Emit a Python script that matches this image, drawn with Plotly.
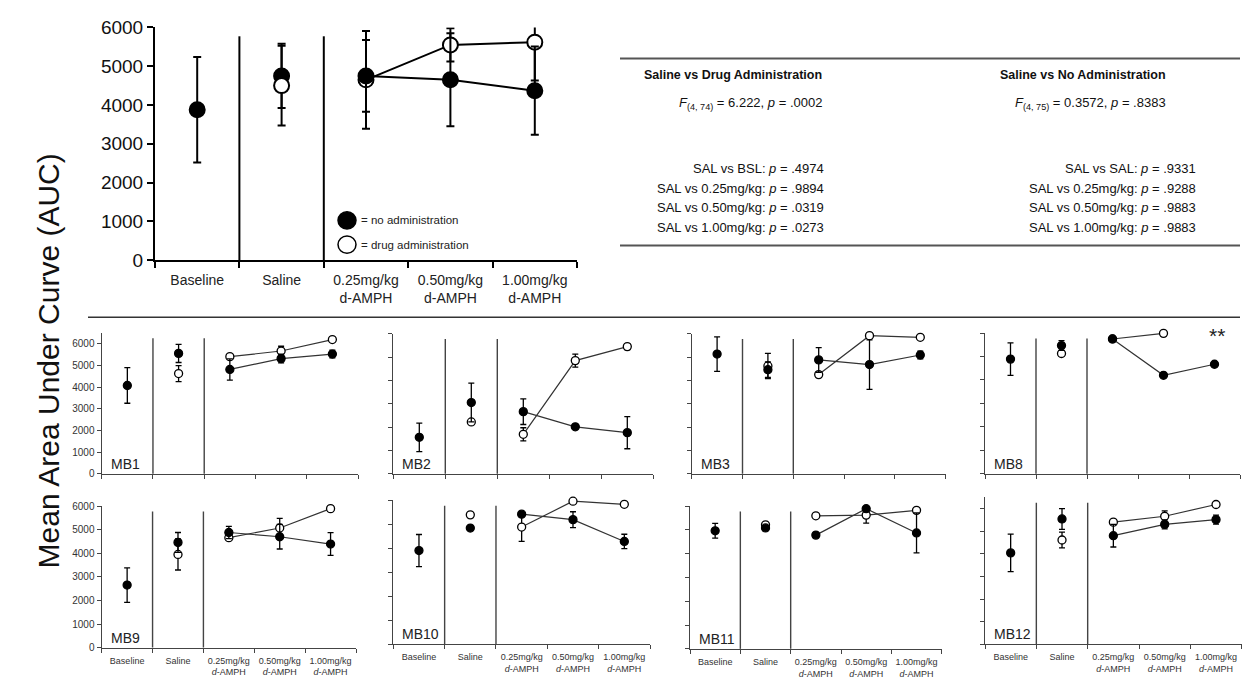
import plotly.graph_objects as go

W, H = 1243, 687
FONT = "Liberation Sans, Arial, sans-serif"

# ---------------- data ----------------
x_pos = [0, 1, 2, 3, 4]
main_labels = ["Baseline", "Saline", "0.25mg/kg<br>d-AMPH", "0.50mg/kg<br>d-AMPH", "1.00mg/kg<br>d-AMPH"]
panel_labels = ["Baseline", "Saline", "0.25mg/kg<br><i>d</i>-AMPH",
                "0.50mg/kg<br><i>d</i>-AMPH", "1.00mg/kg<br><i>d</i>-AMPH"]
y_ticks = [0, 1000, 2000, 3000, 4000, 5000, 6000]

# group means (AUC) and error
no_admin_mean = [3880, 4750, 4750, 4650, 4370]
no_admin_err = [1360, 830, 925, 1200, 1140]
drug_admin_mean = [None, 4500, 4650, 5550, 5620]
drug_admin_err = [None, 1030, 1260, 430, 990]

# individual animals
mb1_no = [4070, 5550, 4810, 5310, 5520]
mb1_no_err = [820, 420, 490, 200, 180]
mb1_drug = [None, 4620, 5400, 5660, 6190]
mb1_drug_err = [None, 370, 0, 220, 0]

mb2_no = [1560, 3050, 2660, 2010, 1760]
mb2_no_err = [610, 830, 550, 0, 690]
mb2_drug = [None, 2220, 1690, 4850, 5450]
mb2_drug_err = [None, 0, 280, 280, 130]

mb3_no = [5130, 4460, 4880, 4680, 5090]
mb3_no_err = [740, 330, 530, 1060, 170]
mb3_drug = [None, 4620, 4250, 5920, 5850]
mb3_drug_err = [None, 540, 0, 0, 0]

mb8_no = [4890, 5470, 5750, 4200, 4670]
mb8_no_err = [690, 210, 0, 0, 0]
mb8_drug = [None, 5130, 5750, 5990, None]
mb8_drug_err = [None, 0, 0, 0, None]

mb9_no = [2650, 4460, 4880, 4700, 4390]
mb9_no_err = [730, 420, 260, 520, 480]
mb9_drug = [None, 3950, 4660, 5070, 5890]
mb9_drug_err = [None, 660, 0, 410, 0]

mb10_no = [3900, 4840, 5420, 5190, 4280]
mb10_no_err = [670, 0, 0, 330, 300]
mb10_drug = [None, 5390, 4880, 5960, 5830]
mb10_drug_err = [None, 0, 600, 0, 100]

mb11_no = [4960, 5080, 4780, 5890, 4870]
mb11_no_err = [310, 100, 0, 0, 840]
mb11_drug = [None, 5210, 5590, 5620, 5820]
mb11_drug_err = [None, 0, 0, 340, 0]

mb12_no = [4040, 5540, 4800, 5300, 5510]
mb12_no_err = [830, 460, 500, 200, 200]
mb12_drug = [None, 4610, 5400, 5660, 6180]
mb12_drug_err = [None, 350, 0, 240, 0]

# ---------------- layout helpers ----------------
def fx(p):
    return p / W


def fy(p):
    return 1 - p / H


fig = go.Figure()


def series_traces(idx, mean, err, filled, style, clip):
    """Return (single-session trace, dose-response trace) for one group."""
    xa = "x" if idx == 1 else f"x{idx}"
    ya = "y" if idx == 1 else f"y{idx}"
    marker = dict(
        size=style["msize"],
        color="black" if filled else "white",
        line=dict(color="black", width=style["mline"]),
    )
    ebar = dict(color="black", thickness=style["ethick"], width=style["ewidth"])
    pts = [i for i in (0, 1) if mean[i] is not None]
    single = go.Scatter(
        x=[x_pos[i] for i in pts], y=[mean[i] for i in pts],
        error_y=dict(type="data", array=[err[i] for i in pts], **ebar),
        mode="markers", marker=marker, xaxis=xa, yaxis=ya,
        showlegend=False, hoverinfo="skip", cliponaxis=clip)
    dose = [i for i in (2, 3, 4) if mean[i] is not None]
    curve = go.Scatter(
        x=[x_pos[i] for i in dose], y=[mean[i] for i in dose],
        error_y=dict(type="data", array=[err[i] for i in dose], **ebar),
        mode="lines+markers", marker=marker,
        line=dict(color=style["lcolor"], width=style["lwidth"]),
        xaxis=xa, yaxis=ya, showlegend=False, hoverinfo="skip", cliponaxis=clip)
    return single, curve


def style_axes(idx, dom_x, dom_y, yr, ticklabels_y, ticklabels_x, big):
    sx = "xaxis" if idx == 1 else f"xaxis{idx}"
    sy = "yaxis" if idx == 1 else f"yaxis{idx}"
    ya = "y" if idx == 1 else f"y{idx}"
    xa = "x" if idx == 1 else f"x{idx}"
    lc = "black" if big else "#444444"
    lw = 2 if big else 1.4
    fig.layout[sx] = dict(
        domain=dom_x, range=[-0.5, 4.5], anchor=ya,
        tickvals=x_pos, ticktext=(main_labels if big else panel_labels),
        showticklabels=ticklabels_x, ticks="outside", ticklen=0,
        ticklabelstandoff=6 if big else 4,
        tickfont=dict(size=14 if big else 9, color="#222222" if big else "#333333", family=FONT),
        minor=dict(tickvals=[-0.5, 0.5, 1.5, 2.5, 3.5, 4.5], ticks="outside",
                   ticklen=6 if big else 4, tickwidth=lw, tickcolor=lc),
        showline=True, linecolor=lc, linewidth=lw,
        showgrid=False, zeroline=False, fixedrange=True)
    fig.layout[sy] = dict(
        domain=dom_y, range=yr, anchor=xa,
        tickvals=y_ticks, showticklabels=ticklabels_y,
        ticks="outside", ticklen=6 if big else 4, tickwidth=lw, tickcolor=lc,
        tickfont=dict(size=19 if big else 10, color="#111111" if big else "#333333", family=FONT),
        showline=True, linecolor=lc, linewidth=lw,
        showgrid=False, zeroline=False, fixedrange=True)
    # session dividers
    for xv in (0.5, 1.5):
        fig.add_shape(type="line", xref=xa, yref=f"{ya} domain",
                      x0=xv, x1=xv, y0=0, y1=0.962,
                      line=dict(color=lc, width=lw))


# ---------------- main group panel ----------------
big_style = dict(msize=15, mline=2, ethick=2, ewidth=4, lcolor="black", lwidth=2)
style_axes(1, [fx(155), fx(577)], [fy(258), fy(18)], [0, 6000], True, True, True)
drug_single, drug_curve = series_traces(1, drug_admin_mean, drug_admin_err, False, big_style, True)
no_single, no_curve = series_traces(1, no_admin_mean, no_admin_err, True, big_style, True)
for tr in (no_single, drug_single, drug_curve, no_curve):
    fig.add_trace(tr)

# legend symbols + text
for cy, filled, txt in [(217, True, "= no administration"), (242, False, "= drug administration")]:
    fig.add_shape(type="circle", xref="paper", yref="paper",
                  x0=fx(338), x1=fx(356), y0=fy(cy + 9), y1=fy(cy - 9),
                  fillcolor="black" if filled else "white",
                  line=dict(color="black", width=1.5))
    fig.add_annotation(x=fx(359), y=fy(cy), xref="paper", yref="paper",
                       text=txt, showarrow=False, xanchor="left", yanchor="middle",
                       font=dict(size=11.5, color="#222222", family=FONT))

# ---------------- individual panels ----------------
panels = [
    ("MB1", mb1_no, mb1_no_err, mb1_drug, mb1_drug_err),
    ("MB2", mb2_no, mb2_no_err, mb2_drug, mb2_drug_err),
    ("MB3", mb3_no, mb3_no_err, mb3_drug, mb3_drug_err),
    ("MB8", mb8_no, mb8_no_err, mb8_drug, mb8_drug_err),
    ("MB9", mb9_no, mb9_no_err, mb9_drug, mb9_drug_err),
    ("MB10", mb10_no, mb10_no_err, mb10_drug, mb10_drug_err),
    ("MB11", mb11_no, mb11_no_err, mb11_drug, mb11_drug_err),
    ("MB12", mb12_no, mb12_no_err, mb12_drug, mb12_drug_err),
]
# (left px, right px, zero-line px, axis-top px, y max)
frames = [
    (101.7, 358.0, 478.3, 333.0, 6500),
    (393.3, 653.3, 478.3, 334.0, 6000),
    (691.7, 945.7, 478.3, 334.0, 6000),
    (985.0, 1240.0, 478.3, 333.3, 6000),
    (101.7, 356.0, 657.7, 511.7, 6000),
    (393.3, 650.0, 654.0, 505.7, 6000),
    (690.0, 941.7, 659.0, 511.7, 6000),
    (985.0, 1241.7, 654.3, 502.6, 6500),
]
small_style = dict(msize=8, mline=1.3, ethick=1.3, ewidth=3, lcolor="#333333", lwidth=1.2)

for k, ((name, no_m, no_e, dr_m, dr_e), (l, r, z, t, ymax)) in enumerate(zip(panels, frames)):
    idx = k + 2
    style_axes(idx, [fx(l), fx(r)], [fy(z), fy(t)], [0, ymax],
               k in (0, 4), k >= 4, False)
    d1, d2 = series_traces(idx, dr_m, dr_e, False, small_style, False)
    n1, n2 = series_traces(idx, no_m, no_e, True, small_style, False)
    for tr in (d1, d2, n1, n2):
        fig.add_trace(tr)
    fig.add_annotation(x=0, y=0, xref=f"x{idx} domain", yref=f"y{idx} domain",
                       text=name, showarrow=False, xanchor="left", yanchor="bottom",
                       xshift=7, yshift=0,
                       font=dict(size=14, color="#222222", family=FONT))

# significance marker for MB8
fig.add_annotation(x=4.05, y=5880, xref="x5", yref="y5", text="**", showarrow=False,
                   font=dict(size=21, color="#222222", family=FONT), yanchor="middle")

# ---------------- statistics table ----------------
for yy in (50, 243):
    fig.add_shape(type="line", xref="paper", yref="paper",
                  x0=fx(620), x1=fx(1240), y0=fy(yy), y1=fy(yy),
                  line=dict(color="#555555", width=2))
fig.add_shape(type="line", xref="paper", yref="paper",
              x0=fx(88), x1=fx(1240), y0=fy(317), y1=fy(317),
              line=dict(color="#333333", width=1.5))

left_rows = [
    "SAL vs BSL: <i>p</i> = .4974",
    "SAL vs 0.25mg/kg: <i>p</i> = .9894",
    "SAL vs 0.50mg/kg: <i>p</i> = .0319",
    "SAL vs 1.00mg/kg: <i>p</i> = .0273",
]
right_rows = [
    "SAL vs SAL: <i>p</i> = .9331",
    "SAL vs 0.25mg/kg: <i>p</i> = .9288",
    "SAL vs 0.50mg/kg: <i>p</i> = .9883",
    "SAL vs 1.00mg/kg: <i>p</i> = .9883",
]
tfont = dict(size=13, color="#111111", family=FONT)
hfont = dict(size=12.5, color="#111111", family=FONT)
for xh, xf, xr, head, ftxt, rows in [
    (824, 824, 826, "<b>Saline vs Drug Administration</b>",
     "<i>F</i><sub>(4, 74)</sub> = 6.222, <i>p</i> = .0002", left_rows),
    (1168, 1168, 1198, "<b>Saline vs No Administration</b>",
     "<i>F</i><sub>(4, 75)</sub> = 0.3572, <i>p</i> = .8383", right_rows),
]:
    fig.add_annotation(x=fx(xh), y=fy(67), xref="paper", yref="paper", text=head,
                       showarrow=False, xanchor="right", yanchor="middle", font=hfont)
    fig.add_annotation(x=fx(xf), y=fy(96), xref="paper", yref="paper", text=ftxt,
                       showarrow=False, xanchor="right", yanchor="middle", font=tfont)
    for j, row in enumerate(rows):
        fig.add_annotation(x=fx(xr), y=fy(164 + 20 * j), xref="paper", yref="paper",
                           text=row, showarrow=False, xanchor="right", yanchor="middle",
                           font=tfont)

# shared y-axis title
fig.add_annotation(x=fx(30), y=fy(362), xref="paper", yref="paper",
                   text="Mean Area Under Curve (AUC)", textangle=-90, showarrow=False,
                   font=dict(size=30, color="#111111", family=FONT))

fig.update_layout(
    width=W, height=H, margin=dict(l=0, r=0, t=0, b=0),
    paper_bgcolor="white", plot_bgcolor="white",
    font=dict(family=FONT, color="#111111"),
    showlegend=False,
)

fig.write_html("out.html", config={"displayModeBar": False})
